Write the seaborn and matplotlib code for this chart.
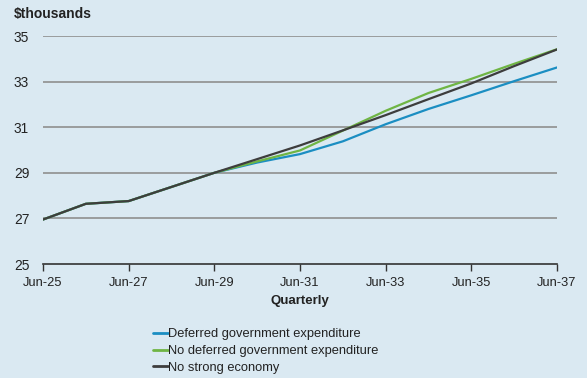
import matplotlib
matplotlib.use("Agg")
import matplotlib.pyplot as plt
import seaborn as sns
import pandas as pd

# Annual observations (quarter index from Jun-25)
quarters = [0, 4, 8, 12, 16, 20, 24, 28, 32, 36, 40, 44, 48]
deferred = [26.95, 27.64, 27.76, 28.38, 29.0, 29.45, 29.82, 30.38, 31.13, 31.8, 32.4, 33.02, 33.62]
no_deferred = [26.95, 27.64, 27.76, 28.38, 29.0, 29.5, 29.98, 30.85, 31.72, 32.5, 33.12, 33.78, 34.42]
no_strong = [26.95, 27.64, 27.76, 28.38, 29.0, 29.6, 30.2, 30.86, 31.53, 32.23, 32.92, 33.68, 34.41]

series_names = ["Deferred government expenditure",
                "No deferred government expenditure",
                "No strong economy"]
tick_positions = [0, 8, 16, 24, 32, 40, 48]
tick_labels = ["Jun-25", "Jun-27", "Jun-29", "Jun-31", "Jun-33", "Jun-35", "Jun-37"]
y_ticks = [25, 27, 29, 31, 33, 35]

df = pd.concat([
    pd.DataFrame({"q": quarters, "v": deferred, "s": series_names[0]}),
    pd.DataFrame({"q": quarters, "v": no_deferred, "s": series_names[1]}),
    pd.DataFrame({"q": quarters, "v": no_strong, "s": series_names[2]}),
])

bg = "#dae9f2"
sns.set_theme(style="white")
plt.rcParams["font.family"] = ["Liberation Sans", "DejaVu Sans"]

fs = 9.3
fig = plt.figure(figsize=(5.87, 3.78), dpi=100, facecolor=bg)
ax = fig.add_axes([43 / 587, 1 - 264 / 378, (557 - 43) / 587, (264 - 36) / 378])
ax.set_facecolor(bg)

palette = {series_names[0]: "#1b8ec2", series_names[1]: "#6fb544", series_names[2]: "#3d3d3d"}
sns.lineplot(data=df, x="q", y="v", hue="s", palette=palette, linewidth=1.6,
             ax=ax, legend=False, zorder=3)

ax.set_xlim(0, 48)
ax.set_ylim(25, 35)
ax.set_yticks(y_ticks)
ax.set_yticklabels([str(t) for t in y_ticks], fontsize=fs + 0.6, color="#222222")
ax.set_xticks(tick_positions)
ax.set_xticklabels(tick_labels, fontsize=fs, color="#222222")
for y in y_ticks[1:]:
    ax.axhline(y, color="#8f8f8f", linewidth=1.2, zorder=1)

for s in ["top", "right", "left"]:
    ax.spines[s].set_visible(False)
ax.spines["bottom"].set_color("#333333")
ax.spines["bottom"].set_linewidth(1.2)
ax.tick_params(axis="x", direction="out", length=5, width=1.0, color="#333333", pad=4, bottom=True)
ax.tick_params(axis="y", length=0)
for lbl in ax.get_yticklabels():
    lbl.set_horizontalalignment("left")
ax.yaxis.set_tick_params(pad=21)

ax.set_xlabel("Quarterly", fontsize=fs + 0.2, fontweight="bold", color="#222222", labelpad=5)
ax.set_ylabel("")

fig.text(14 / 587, 1 - 14 / 378, "$thousands", fontsize=10, fontweight="bold",
         color="#222222", ha="left", va="center")

handles = [plt.Line2D([], [], color=palette[n], linewidth=2) for n in series_names]
fig.legend(handles, series_names, loc="upper left", bbox_to_anchor=(147 / 587, 1 - 322 / 378),
           frameon=False, fontsize=fs, handlelength=1.1, handletextpad=0.05,
           labelspacing=0.36, borderpad=0, labelcolor="#222222")

fig.savefig("out.png", dpi=100, facecolor=bg)
